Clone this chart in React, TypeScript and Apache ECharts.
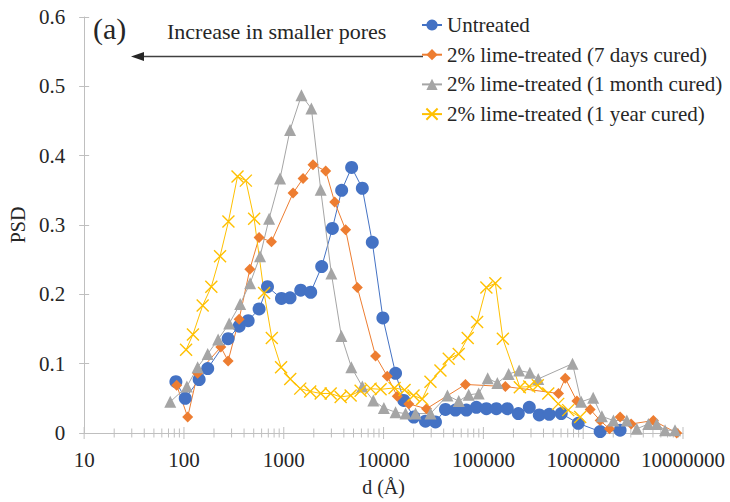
import React, { useEffect, useRef } from "react";
import * as echarts from "echarts";

// Pore size d (Å) and PSD for each sample
const untreatedD = [83, 103, 142, 173, 277, 357, 440, 566, 687, 948, 1156, 1479, 1862, 2399, 3069, 3802, 4786, 6124, 7709, 9840, 13183, 15960, 20090, 26300, 33110, 41690, 52480, 67610, 85110, 107150, 134900, 173800, 223900, 288400, 363100, 457100, 602600, 891300, 1479000, 2344000];
const untreatedPSD = [0.074, 0.05, 0.077, 0.093, 0.136, 0.154, 0.162, 0.179, 0.211, 0.194, 0.195, 0.206, 0.203, 0.24, 0.295, 0.35, 0.383, 0.353, 0.275, 0.166, 0.086, 0.047, 0.023, 0.017, 0.016, 0.034, 0.033, 0.033, 0.037, 0.035, 0.035, 0.035, 0.028, 0.037, 0.026, 0.027, 0.028, 0.014, 0.002, 0.004];

const days7D = [84.5, 109, 137, 234, 277, 357, 457, 566, 753, 1239, 1560, 1963, 2630, 3236, 4169, 5458, 8318, 10890, 13710, 17910, 26920, 66070, 166000, 566000, 660700, 865000, 1175000, 1479000, 1832000, 2344000, 3020000, 5047000, 8650000];
const days7PSD = [0.069, 0.023, 0.086, 0.124, 0.104, 0.164, 0.236, 0.282, 0.276, 0.346, 0.367, 0.387, 0.378, 0.333, 0.293, 0.21, 0.111, 0.082, 0.053, 0.042, 0.035, 0.07, 0.067, 0.057, 0.079, 0.046, 0.034, 0.018, 0.006, 0.023, 0.013, 0.018, 0.0];

const month1D = [72.9, 107, 137, 173, 220, 284, 366, 460, 579, 713, 918, 1156, 1503, 1892, 2344, 2999, 3776, 4753, 6124, 7889, 10070, 13180, 16600, 20890, 29510, 43650, 56620, 71290, 89740, 110400, 138000, 179100, 228000, 292400, 354800, 781600, 955000, 1259000, 1538000, 2009000, 2735000, 3443000, 4498000, 5458000, 6607000, 8318000];
const month1PSD = [0.045, 0.067, 0.095, 0.114, 0.135, 0.158, 0.186, 0.216, 0.255, 0.309, 0.367, 0.437, 0.487, 0.468, 0.351, 0.23, 0.14, 0.095, 0.067, 0.047, 0.036, 0.03, 0.028, 0.028, 0.028, 0.054, 0.046, 0.055, 0.057, 0.079, 0.072, 0.085, 0.09, 0.087, 0.078, 0.1, 0.045, 0.051, 0.024, 0.018, 0.018, 0.006, 0.013, 0.013, 0.004, 0.004];

const year1D = [105, 123, 154, 188, 230, 279, 344, 417, 505, 635, 759, 940, 1161, 1462, 1841, 2344, 2951, 3715, 4677, 5888, 7413, 9333, 12880, 16220, 19950, 24380, 29510, 37150, 44980, 56620, 69660, 86500, 107150, 131800, 156700, 231700, 288400, 350800, 446700, 562300, 707900, 933300];
const year1PSD = [0.12, 0.142, 0.184, 0.211, 0.255, 0.305, 0.37, 0.364, 0.309, 0.202, 0.137, 0.095, 0.078, 0.064, 0.06, 0.057, 0.057, 0.052, 0.054, 0.061, 0.064, 0.063, 0.065, 0.062, 0.054, 0.049, 0.074, 0.09, 0.107, 0.114, 0.137, 0.16, 0.21, 0.216, 0.136, 0.066, 0.067, 0.069, 0.057, 0.042, 0.033, 0.023];

const seriesNames = [
  "Untreated",
  "2% lime-treated (7 days cured)",
  "2% lime-treated (1 month cured)",
  "2% lime-treated (1 year cured)",
];

const yTicks = [0, 0.1, 0.2, 0.3, 0.4, 0.5, 0.6];
const xDecades = [10, 100, 1000, 10000, 100000, 1000000, 10000000];

const FONT = "'Liberation Serif', 'Times New Roman', serif";
const AXIS_GREY = "#BFBFBF";
const TEXT = "#262626";

const zip = (xs: number[], ys: number[]) => xs.map((x, i) => [x, ys[i]]);

// Excel-style log ticks: full-length at decades, shorter at 2..9 of each decade
const xTickMarks: number[][] = [];
xDecades.forEach((d, i) => {
  xTickMarks.push([d, 0, 1]);
  if (i < xDecades.length - 1) {
    for (let k = 2; k <= 9; k++) xTickMarks.push([d * k, 0, 0]);
  }
});

export default function App() {
  const ref = useRef<HTMLDivElement>(null);

  useEffect(() => {
    if (!ref.current) return;
    document.body.style.margin = "0";
    const chart = echarts.init(ref.current, undefined, { renderer: "svg" });

    const lineSeries = (
      name: string,
      data: number[][],
      color: string,
      symbol: string,
      symbolSize: number,
      itemStyle: any
    ) => ({
      name,
      type: "line",
      data,
      symbol,
      symbolSize,
      showSymbol: true,
      lineStyle: { color, width: 1 },
      itemStyle,
      emphasis: { disabled: true },
      z: 3,
    });

    chart.setOption({
      animation: false,
      grid: { left: 83, right: 47, top: 17, bottom: 69, containLabel: false },
      legend: {
        data: seriesNames,
        orient: "vertical",
        left: 421,
        top: 14,
        padding: 0,
        itemWidth: 20,
        itemHeight: 14,
        itemGap: 7.7,
        textStyle: { fontFamily: FONT, fontSize: 21, color: TEXT, lineHeight: 22 },
        selectedMode: false,
      },
      xAxis: {
        type: "log",
        logBase: 10,
        min: xDecades[0],
        max: xDecades[xDecades.length - 1],
        name: "d (Å)",
        nameLocation: "middle",
        nameGap: 44,
        nameMoveOverlap: false,
        nameTextStyle: { fontFamily: FONT, fontSize: 20, color: TEXT },
        axisLine: { lineStyle: { color: AXIS_GREY, width: 1 } },
        axisTick: { show: false },
        axisLabel: {
          fontFamily: FONT,
          fontSize: 21,
          color: TEXT,
          margin: 16,
          interval: 0,
          showMinLabel: true,
          showMaxLabel: true,
          hideOverlap: false,
          formatter: (v: number) => String(Math.round(v)),
        },
        splitLine: { show: false },
        minorTick: { show: false },
      },
      yAxis: [
        {
          type: "value",
          min: yTicks[0],
          max: yTicks[yTicks.length - 1],
          interval: 0.1,
          name: "PSD",
          nameLocation: "middle",
          nameGap: 56,
          nameTextStyle: { fontFamily: FONT, fontSize: 20, color: TEXT },
          axisLine: { show: true, lineStyle: { color: AXIS_GREY, width: 1 } },
          axisTick: { show: true, length: 5, lineStyle: { color: AXIS_GREY } },
          axisLabel: {
            fontFamily: FONT,
            fontSize: 21,
            color: TEXT,
            margin: 19,
            formatter: (v: number) => (v === 0 ? "0" : v.toFixed(1)),
          },
          splitLine: { show: false },
        },
        {
          type: "value",
          min: yTicks[0],
          max: yTicks[yTicks.length - 1],
          interval: 0.1,
          position: "left",
          axisLine: { show: false },
          axisTick: { show: true, inside: true, length: 5, lineStyle: { color: AXIS_GREY } },
          axisLabel: { show: false },
          splitLine: { show: false },
        },
      ],
      graphic: [
        {
          type: "text",
          left: 93,
          top: 13,
          style: { text: "(a)", fontFamily: FONT, fontSize: 30, fill: TEXT },
        },
        {
          type: "text",
          x: 167,
          y: 31,
          style: {
            text: "Increase in smaller pores",
            fontFamily: FONT,
            fontSize: 22,
            fill: TEXT,
            verticalAlign: "middle",
          },
        },
        {
          type: "line",
          shape: { x1: 141, y1: 56.5, x2: 423, y2: 56.5 },
          style: { stroke: "#404040", lineWidth: 1.3 },
        },
        {
          type: "polygon",
          shape: { points: [[131, 56.5], [144, 52], [144, 61]] },
          style: { fill: "#262626" },
        },
      ],
      series: [
        {
          type: "custom",
          coordinateSystem: "cartesian2d",
          silent: true,
          clip: false,
          z: 1,
          encode: { x: 0, y: 1 },
          data: xTickMarks,
          renderItem: (_params: any, api: any) => {
            const p = api.coord([api.value(0), 0]);
            const half = api.value(2) ? 6 : 4.5;
            return {
              type: "line",
              shape: { x1: p[0], y1: p[1] - half, x2: p[0], y2: p[1] + half },
              style: { stroke: AXIS_GREY, lineWidth: 1 },
            };
          },
        },
        lineSeries(seriesNames[0], zip(untreatedD, untreatedPSD), "#4472C4", "circle", 13, {
          color: "#4472C4",
        }),
        lineSeries(seriesNames[1], zip(days7D, days7PSD), "#ED7D31", "diamond", 11, {
          color: "#ED7D31",
        }),
        lineSeries(seriesNames[2], zip(month1D, month1PSD), "#A5A5A5", "triangle", 12, {
          color: "#A5A5A5",
        }),
        lineSeries(
          seriesNames[3],
          zip(year1D, year1PSD),
          "#FFC000",
          "path://M0,0L10,10M10,0L0,10",
          12,
          { color: "#FFC000", borderColor: "#FFC000", borderWidth: 1.4 }
        ),
      ],
    });

    return () => chart.dispose();
  }, []);

  return <div ref={ref} style={{ width: 730, height: 502 }} />;
}
